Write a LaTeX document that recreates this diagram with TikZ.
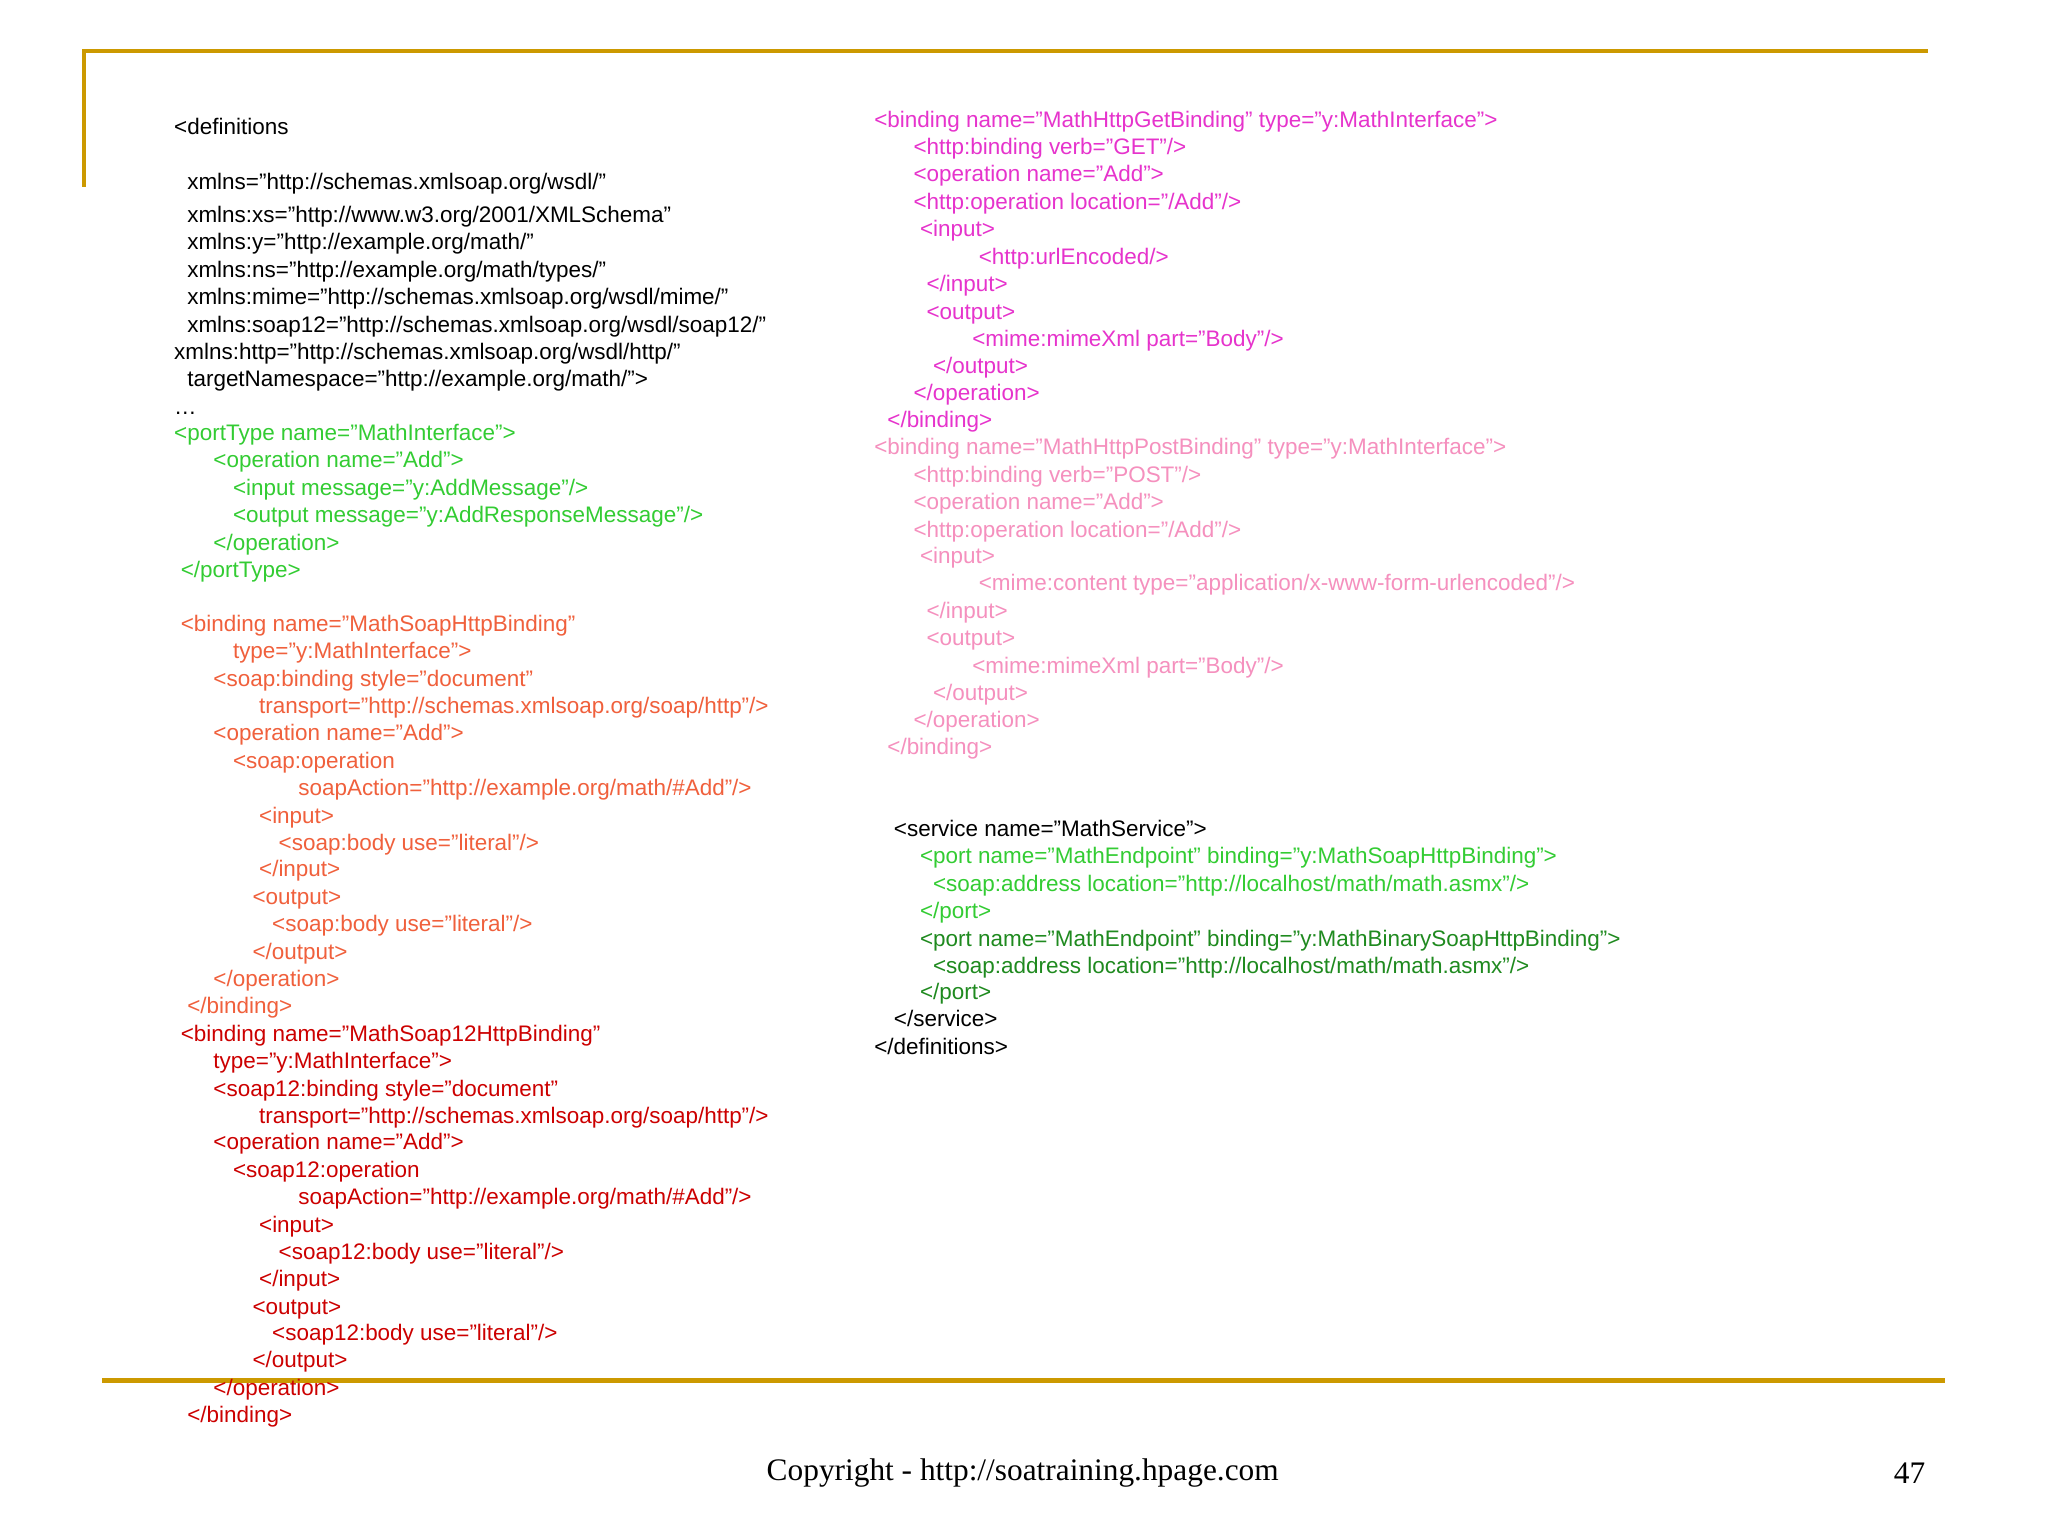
\documentclass[tikz,border=0pt]{standalone}
\usepackage{fontspec}
\setmainfont{Liberation Sans}
\newfontfamily\serifcopy{Liberation Serif}
\definecolor{cblk}{HTML}{000000}
\definecolor{cgrn}{HTML}{33CC33}
\definecolor{corg}{HTML}{F0603C}
\definecolor{cred}{HTML}{CC0000}
\definecolor{cmag}{HTML}{E633CC}
\definecolor{cpnk}{HTML}{F590BE}
\definecolor{cdgr}{HTML}{1F8A1F}
\definecolor{cgold}{HTML}{CC9900}
\newcommand\cdl[5]{\node[txt,text=#4] (#1) at (#2,-#3) {#5};}
\begin{document}
\begin{tikzpicture}[x=0.5pt,y=0.5pt,
  txt/.style={anchor=mid west,inner sep=0pt,font=\fontsize{8.6pt}{10pt}\selectfont},
  rule/.style={draw=cgold,line width=1.6pt}]
\useasboundingbox (0,0) rectangle (1568,-1176);
\fill[white] (0,0) rectangle (1568,-1176);
\coordinate (t1) at (64,-39); \coordinate (t2) at (1476,-39); \coordinate (t3) at (64,-143);
\draw[rule] (t3) -- (t1) -- (t2);
\coordinate (b1) at (78,-1057); \coordinate (b2) at (1489,-1057);
\draw[rule] (b1) -- (b2);
\node[font=\serifcopy\fontsize{12pt}{14pt}\selectfont,inner sep=0pt] (copy) at (783,-1128) {Copyright - http://soatraining.hpage.com};
\node[font=\serifcopy\fontsize{12pt}{14pt}\selectfont,inner sep=0pt] (pg) at (1462,-1128) {47};
% left column
\cdl{a1}{133}{98}{cblk}{<definitions}
\cdl{a2}{143}{140}{cblk}{xmlns="http://schemas.xmlsoap.org/wsdl/"}
\cdl{a3}{143}{165}{cblk}{xmlns:xs="http://www.w3.org/2001/XMLSchema"}
\cdl{a4}{143}{186}{cblk}{xmlns:y="http://example.org/math/"}
\cdl{a5}{143}{207}{cblk}{xmlns:ns="http://example.org/math/types/"}
\cdl{a6}{143}{228}{cblk}{xmlns:mime="http://schemas.xmlsoap.org/wsdl/mime/"}
\cdl{a7}{143}{249}{cblk}{xmlns:soap12="http://schemas.xmlsoap.org/wsdl/soap12/"}
\cdl{a8}{133}{270}{cblk}{xmlns:http="http://schemas.xmlsoap.org/wsdl/http/"}
\cdl{a9}{143}{291}{cblk}{targetNamespace="http://example.org/math/">}
\cdl{a10}{133}{312}{cblk}{…}
\cdl{g1}{133}{332}{cgrn}{<portType name="MathInterface">}
\cdl{g2}{163}{353}{cgrn}{<operation name="Add">}
\cdl{g3}{178}{374}{cgrn}{<input message="y:AddMessage"/>}
\cdl{g4}{178}{395}{cgrn}{<output message="y:AddResponseMessage"/>}
\cdl{g5}{163}{416}{cgrn}{</operation>}
\cdl{g6}{138}{437}{cgrn}{</portType>}
\cdl{o1}{138}{478}{corg}{<binding name="MathSoapHttpBinding"}
\cdl{o2}{178}{499}{corg}{type="y:MathInterface">}
\cdl{o3}{163}{520}{corg}{<soap:binding style="document"}
\cdl{o4}{198}{541}{corg}{transport="http://schemas.xmlsoap.org/soap/http"/>}
\cdl{o5}{163}{562}{corg}{<operation name="Add">}
\cdl{o6}{178}{583}{corg}{<soap:operation}
\cdl{o7}{228}{604}{corg}{soapAction="http://example.org/math/\#Add"/>}
\cdl{o8}{198}{625}{corg}{<input>}
\cdl{o9}{213}{646}{corg}{<soap:body use="literal"/>}
\cdl{o10}{198}{666}{corg}{</input>}
\cdl{o11}{193}{687}{corg}{<output>}
\cdl{o12}{208}{708}{corg}{<soap:body use="literal"/>}
\cdl{o13}{193}{729}{corg}{</output>}
\cdl{o14}{163}{750}{corg}{</operation>}
\cdl{o15}{143}{771}{corg}{</binding>}
\cdl{r1}{138}{792}{cred}{<binding name="MathSoap12HttpBinding"}
\cdl{r2}{163}{813}{cred}{type="y:MathInterface">}
\cdl{r3}{163}{834}{cred}{<soap12:binding style="document"}
\cdl{r4}{198}{855}{cred}{transport="http://schemas.xmlsoap.org/soap/http"/>}
\cdl{r5}{163}{875}{cred}{<operation name="Add">}
\cdl{r6}{178}{896}{cred}{<soap12:operation}
\cdl{r7}{228}{917}{cred}{soapAction="http://example.org/math/\#Add"/>}
\cdl{r8}{198}{938}{cred}{<input>}
\cdl{r9}{213}{959}{cred}{<soap12:body use="literal"/>}
\cdl{r10}{198}{980}{cred}{</input>}
\cdl{r11}{193}{1001}{cred}{<output>}
\cdl{r12}{208}{1021}{cred}{<soap12:body use="literal"/>}
\cdl{r13}{193}{1042}{cred}{</output>}
\cdl{r14}{163}{1063}{cred}{</operation>}
\cdl{r15}{143}{1084}{cred}{</binding>}
% right column
\cdl{m1}{669}{92}{cmag}{<binding name="MathHttpGetBinding" type="y:MathInterface">}
\cdl{m2}{699}{113}{cmag}{<http:binding verb="GET"/>}
\cdl{m3}{699}{134}{cmag}{<operation name="Add">}
\cdl{m4}{699}{155}{cmag}{<http:operation location="/Add"/>}
\cdl{m5}{704}{176}{cmag}{<input>}
\cdl{m6}{749}{197}{cmag}{<http:urlEncoded/>}
\cdl{m7}{709}{218}{cmag}{</input>}
\cdl{m8}{709}{239}{cmag}{<output>}
\cdl{m9}{744}{260}{cmag}{<mime:mimeXml part="Body"/>}
\cdl{m10}{714}{281}{cmag}{</output>}
\cdl{m11}{699}{301}{cmag}{</operation>}
\cdl{m12}{679}{322}{cmag}{</binding>}
\cdl{p1}{669}{343}{cpnk}{<binding name="MathHttpPostBinding" type="y:MathInterface">}
\cdl{p2}{699}{364}{cpnk}{<http:binding verb="POST"/>}
\cdl{p3}{699}{385}{cpnk}{<operation name="Add">}
\cdl{p4}{699}{406}{cpnk}{<http:operation location="/Add"/>}
\cdl{p5}{704}{426}{cpnk}{<input>}
\cdl{p6}{749}{447}{cpnk}{<mime:content type="application/x-www-form-urlencoded"/>}
\cdl{p7}{709}{468}{cpnk}{</input>}
\cdl{p8}{709}{489}{cpnk}{<output>}
\cdl{p9}{744}{510}{cpnk}{<mime:mimeXml part="Body"/>}
\cdl{p10}{714}{531}{cpnk}{</output>}
\cdl{p11}{699}{552}{cpnk}{</operation>}
\cdl{p12}{679}{572}{cpnk}{</binding>}
\cdl{s1}{684}{635}{cblk}{<service name="MathService">}
\cdl{s2}{704}{656}{cgrn}{<port name="MathEndpoint" binding="y:MathSoapHttpBinding">}
\cdl{s3}{714}{677}{cgrn}{<soap:address location="http://localhost/math/math.asmx"/>}
\cdl{s4}{704}{698}{cgrn}{</port>}
\cdl{s5}{704}{719}{cdgr}{<port name="MathEndpoint" binding="y:MathBinarySoapHttpBinding">}
\cdl{s6}{714}{740}{cdgr}{<soap:address location="http://localhost/math/math.asmx"/>}
\cdl{s7}{704}{760}{cdgr}{</port>}
\cdl{s8}{684}{781}{cblk}{</service>}
\cdl{s9}{669}{802}{cblk}{</definitions>}
\end{tikzpicture}
\end{document}
